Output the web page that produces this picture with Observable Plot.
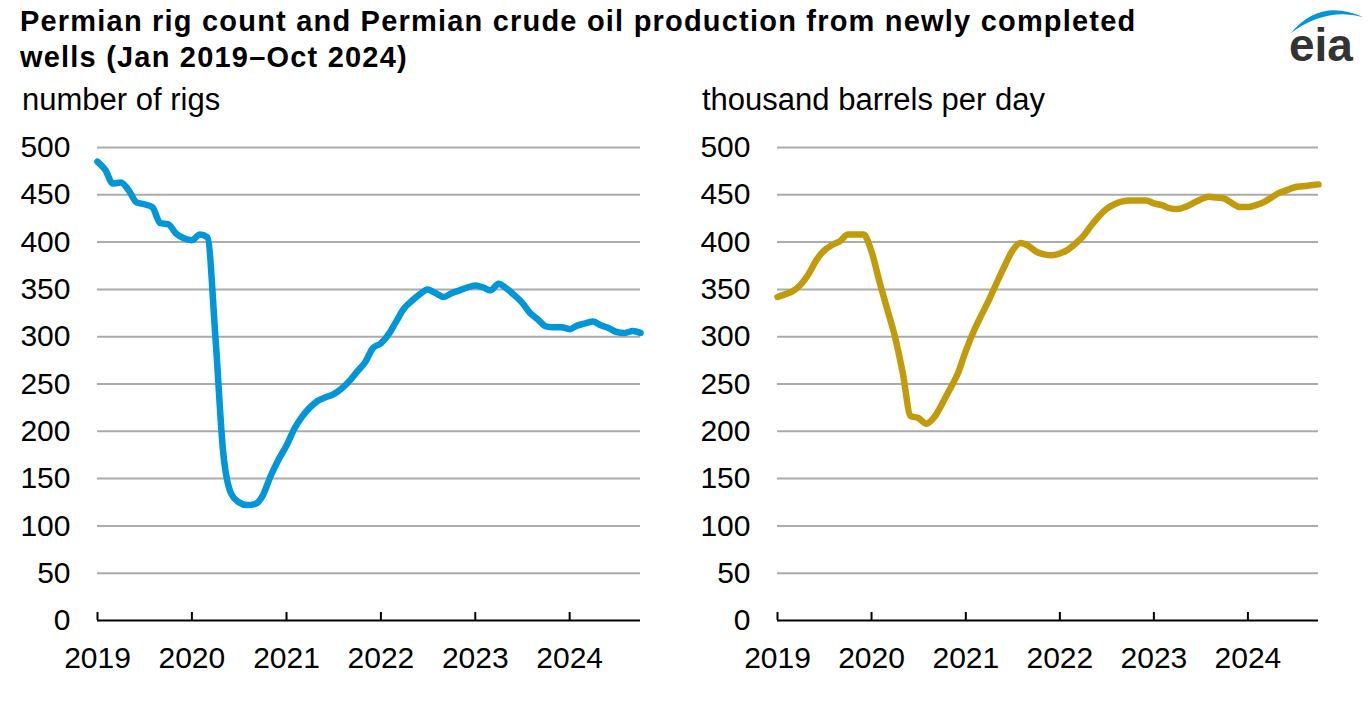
<!DOCTYPE html>
<html>
<head>
<meta charset="utf-8">
<script src="https://cdn.jsdelivr.net/npm/d3@7"></script>
<script src="https://cdn.jsdelivr.net/npm/@observablehq/plot@0.6"></script>
<style>
  body { margin: 0; background: #fff; font-family: "Liberation Sans", Arial, sans-serif; width: 1371px; height: 702px; position: relative; overflow: hidden; }
  #title { position: absolute; left: 20px; top: 3px; font-weight: bold; font-size: 29px; letter-spacing: 1.2px; line-height: 36px; color: #000; white-space: nowrap; }
  .unit { position: absolute; top: 84px; font-size: 31px; line-height: 31px; color: #000; white-space: nowrap; }
  .chart { position: absolute; top: 120px; }
  #logo { position: absolute; left: 0; top: 0; }
</style>
</head>
<body>
<div id="title">Permian rig count and Permian crude oil production from newly completed<br>wells (Jan 2019–Oct 2024)</div>
<div class="unit" style="left:22px">number of rigs</div>
<div class="unit" style="left:702px">thousand barrels per day</div>
<div class="chart" id="left" style="left:0px"></div>
<div class="chart" id="right" style="left:680px"></div>
<svg id="logo" width="1371" height="80">
  <path d="M1291,33 Q1320,-2 1363,17 Q1326,7 1291,33 Z" fill="#0096d7"/>
  <text x="1289" y="61" font-family="Liberation Sans, Arial, sans-serif" font-size="46" font-weight="bold" fill="#333">eia</text>
</svg>
<script>
// Months Jan 2019 – Oct 2024
const startMonth = "2019-01-01";
const endMonth = "2024-10-01";

const rigCount = [
  485, 476, 462, 463, 455, 442, 440, 437, 420, 419, 409, 404,
  402, 408, 405, 300, 178, 134, 125, 122, 123, 132, 153, 170,
  185, 203, 215, 225, 232, 236, 239, 245, 253, 263, 273, 288,
  293, 303, 316, 330, 338, 345, 350, 346, 342, 346, 349, 352,
  354, 352, 349, 356, 351, 344, 336, 325, 318, 311, 310, 310,
  308, 312, 314, 316, 312, 309, 305, 304, 306, 304
];

const newWellProduction = [
  342, 345, 348, 355, 366, 381, 391, 397, 401, 408, 408, 408,
  390, 358, 330, 300, 262, 216, 214, 208, 215, 229, 245, 261,
  285, 306, 322, 339, 357, 375, 391, 399, 396, 390, 387, 386,
  388, 392, 398, 406, 417, 427, 435, 440, 443, 444, 444, 444,
  441, 439, 436, 435, 437, 441, 445, 448, 447, 446, 441, 437,
  437, 439, 442, 447, 452, 455, 458, 459, 460, 461
];

const yTicks = [0, 50, 100, 150, 200, 250, 300, 350, 400, 450, 500];
const yearLabels = ["2019", "2020", "2021", "2022", "2023", "2024"];

const months = d3.utcMonth.range(new Date(startMonth), d3.utcMonth.offset(new Date(endMonth), 1));
const yearTicks = yearLabels.map(y => new Date(`${y}-01-01`));

function chart(values, color, width, marginRight) {
  const data = months.map((d, i) => ({date: d, value: values[i]}));
  return Plot.plot({
    width,
    height: 580,
    marginTop: 27,
    marginBottom: 80,
    marginLeft: 97,
    marginRight,
    style: {fontFamily: "Liberation Sans, Arial, sans-serif", fontSize: "30px", color: "#000", background: "transparent", overflow: "visible"},
    x: {type: "utc", domain: [months[0], months[months.length - 1]]},
    y: {domain: [0, 500]},
    marks: [
      Plot.ruleY(yTicks.filter(d => d > 0), {stroke: "#ababab", strokeWidth: 2}),
      Plot.ruleY([0], {stroke: "#000", strokeWidth: 2}),
      Plot.ruleX(yearTicks, {x: d => d, y1: 0, y2: 8.5, stroke: "#000", strokeWidth: 2}),
      Plot.axisY({ticks: yTicks, tickSize: 0, tickPadding: 27, label: null, fontSize: 30}),
      Plot.axisX({ticks: yearTicks, tickSize: 0, tickPadding: 26, label: null, fontSize: 30, tickFormat: (d, i) => yearLabels[i]}),
      Plot.line(data, {x: "date", y: "value", stroke: color, strokeWidth: 6.5, curve: "monotone-x", strokeLinecap: "round", strokeLinejoin: "round"})
    ]
  });
}

document.getElementById("left").append(chart(rigCount, "#0096d7", 680, 40));
document.getElementById("right").append(chart(newWellProduction, "#c29b0c", 680, 42));
</script>
</body>
</html>
